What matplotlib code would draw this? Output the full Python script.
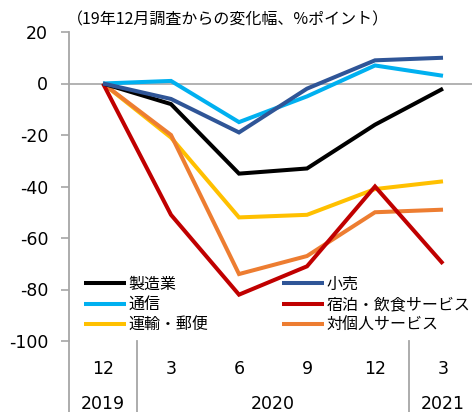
import matplotlib
matplotlib.use("Agg")
import matplotlib.pyplot as plt
import matplotlib.transforms as mtrans

plt.rcParams['font.family'] = ['DejaVu Sans', 'Noto Sans CJK JP']
JP = ['Noto Sans CJK JP', 'DejaVu Sans']

months = ['12', '3', '6', '9', '12', '3']
years = ['2019', '2020', '2021']
series_names = ['製造業', '小売', '通信', '宿泊・飲食サービス', '運輸・郵便', '対個人サービス']
manufacturing = [0, -8, -35, -33, -16, -2]
retail = [0, -6, -19, -2, 9, 10]
telecom = [0, 1, -15, -5, 7, 3]
lodging_food = [0, -51, -82, -71, -40, -70]
transport_postal = [0, -21, -52, -51, -41, -38]
personal_services = [0, -20, -74, -67, -50, -49]
yticks = [20, 0, -20, -40, -60, -80, -100]
title = '（19年12月調査からの変化幅、%ポイント）'

colors = ['#000000', '#2F5597', '#00B0F0', '#C00000', '#FFC000', '#ED7D31']
values = [manufacturing, retail, telecom, lodging_food, transport_postal, personal_services]

W, H = 472, 412
fig = plt.figure(figsize=(W / 100, H / 100), dpi=100)
ax_l, ax_r, ax_t, ax_b = 69, 477, 32, 341
ax = fig.add_axes([ax_l / W, 1 - ax_b / H, (ax_r - ax_l) / W, (ax_b - ax_t) / H])

x = list(range(len(months)))
handles = {}
draw_order = [4, 5, 3, 0, 2, 1]
for i in draw_order:
    ln, = ax.plot(x, values[i], color=colors[i], lw=2.9, solid_joinstyle='miter',
                  solid_capstyle='butt', zorder=3 + draw_order.index(i))
    handles[i] = ln

ax.set_xlim(-0.5, len(months) - 0.5)
ax.set_ylim(-100, 20)
ax.axhline(0, color='#A6A6A6', lw=1.2, zorder=2)

for s in ['top', 'right', 'bottom']:
    ax.spines[s].set_visible(False)
ax.spines['left'].set_color('#A6A6A6')
ax.spines['left'].set_linewidth(1.3)

ax.set_yticks(yticks)
ax.set_yticklabels([str(v) for v in yticks], fontsize=12.5)
ax.tick_params(axis='y', length=6, width=1.2, color='#A6A6A6', pad=9)
ax.set_xticks(x)
ax.set_xticklabels(months, fontsize=12.5)
ax.tick_params(axis='x', length=0, pad=13.5)

trans = mtrans.blended_transform_factory(ax.transData, ax.transAxes)
ybot = -(H - ax_b) / (ax_b - ax_t)
for xs in [-0.5, 0.5, 4.5]:
    ax.plot([xs, xs], [0, ybot], transform=trans, color='#A6A6A6', lw=1.3, clip_on=False)
year_pos = [0, 2.5, 5]
ylab = -(404 - ax_b) / (ax_b - ax_t)
for yp, yl in zip(year_pos, years):
    ax.text(yp, ylab, yl, transform=trans, ha='center', va='center', fontsize=12.5)

fig.text(67 / W, 1 - 20 / H, title, ha='left', va='center', fontsize=11.5, family=JP)

order = [0, 2, 4, 1, 3, 5]
leg = ax.legend([handles[i] for i in order], [series_names[i] for i in order],
                ncol=2, frameon=False, prop={'family': JP, 'size': 11.5},
                handlelength=2.6, handletextpad=0.2, columnspacing=4.6,
                labelspacing=0.2, borderpad=0, borderaxespad=0,
                loc='upper left', bbox_to_anchor=(84 / W, 1 - 276 / H),
                bbox_transform=fig.transFigure)

fig.savefig('out.png', dpi=100)
